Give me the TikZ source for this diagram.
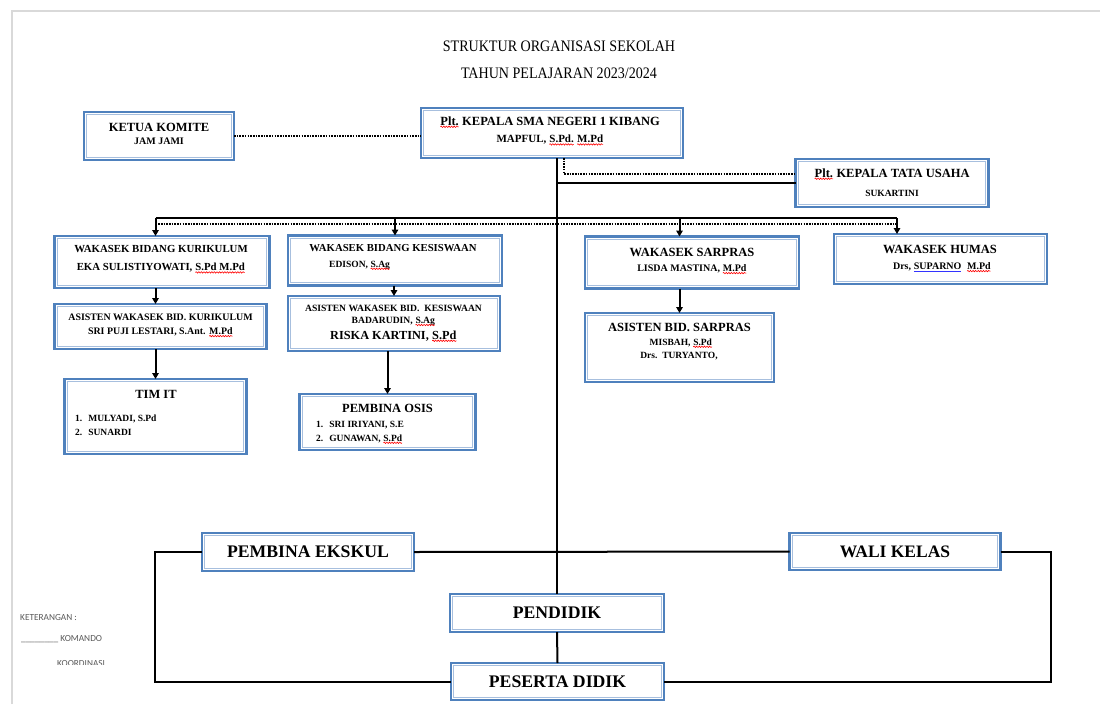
\documentclass[tikz,border=0pt]{standalone}
\usepackage{fontspec}
\setmainfont{Liberation Serif}
\newfontfamily\titlefont[FakeStretch=0.88]{Liberation Serif}
\newfontfamily\legfont{Carlito}
\usetikzlibrary{arrows.meta,decorations.pathmorphing}
\definecolor{bblue}{HTML}{4F81BD}
\definecolor{blight}{HTML}{A7BFDE}
\definecolor{pgray}{HTML}{D9D9D9}
\definecolor{lgray}{HTML}{5A5A5A}
\newcommand\fs[2]{\fontsize{#1}{#2}\selectfont}
\newcommand\sq[1]{\tikz[baseline=(s.base)]{\node[inner sep=0pt,outer sep=0pt] (s) {#1};\draw[red, line width=0.6pt, decorate, decoration={snake, amplitude=0.7pt, segment length=2.6pt}] ([yshift=-1.8pt]s.base west) -- ([yshift=-1.8pt]s.base east);}}
\newcommand\bu[1]{\tikz[baseline=(s.base)]{\node[inner sep=0pt,outer sep=0pt] (s) {#1};\draw[blue!80, line width=0.6pt] ([yshift=-1.6pt]s.base west) -- ([yshift=-1.6pt]s.base east);}}
\begin{document}
\begin{tikzpicture}[x=1pt,y=-1pt,
  bx/.style={draw=bblue, line width=2.6pt, fill=white, inner sep=0pt, outer sep=0pt, font=\bfseries},
  tl/.style={inner sep=0pt, anchor=base, font=\bfseries\fs{#1}{14}},
  ll/.style={inner sep=0pt, anchor=base west, font=\bfseries\fs{#1}{14}},
  ln/.style={line width=2pt, black},
  dt/.style={line width=1.8pt, black, dash pattern=on 1.6pt off 1.1pt},
  arr/.style={ln, -{Triangle[width=6.5pt,length=6pt]}},
  leg/.style={inner sep=0pt, font=\legfont\fs{9.3}{11}, text=lgray, anchor=west}]
\useasboundingbox (0,0) rectangle (1100,704);
\fill[white] (0,0) rectangle (1100,704);
\draw[pgray, line width=1.5pt] (12,704) -- (12,11) -- (1100,11);

% title
\node[inner sep=0pt, font=\titlefont\fs{16}{18}] (title1) at (559,46) {STRUKTUR ORGANISASI SEKOLAH};
\node[inner sep=0pt, font=\titlefont\fs{16}{18}] (title2) at (559,73) {TAHUN PELAJARAN 2023/2024};

% boxes
\node[bx, minimum width=150pt, minimum height=48pt] (komite) at (159,136) {};
\node[bx, minimum width=262pt, minimum height=50pt] (kepala) at (552,133) {};
\node[bx, minimum width=193pt, minimum height=48pt] (tu) at (892,183) {};
\node[bx, minimum width=215pt, minimum height=52pt] (wkur) at (162,262) {};
\node[bx, minimum width=214pt, minimum height=50pt] (wkes) at (395,260.5) {};
\node[bx, minimum width=214pt, minimum height=52pt] (wsar) at (692,262.5) {};
\node[bx, minimum width=213pt, minimum height=50pt] (whum) at (940.5,259) {};
\node[bx, minimum width=212pt, minimum height=45pt] (akur) at (160.5,326.5) {};
\node[bx, minimum width=212pt, minimum height=55pt] (akes) at (394,323.5) {};
\node[bx, minimum width=189pt, minimum height=69pt] (asar) at (679.5,347.5) {};
\node[bx, minimum width=182pt, minimum height=75pt] (timit) at (155.5,416.5) {};
\node[bx, minimum width=176pt, minimum height=56pt] (osis) at (387.5,422) {};
\node[bx, minimum width=212pt, minimum height=38pt, font=\bfseries\fs{17.7}{20}] (ekskul) at (308,552) {PEMBINA EKSKUL};
\node[bx, minimum width=211pt, minimum height=37pt, font=\bfseries\fs{17.5}{20}] (wali) at (895,551.5) {WALI KELAS};
\node[bx, minimum width=214pt, minimum height=38pt, font=\bfseries\fs{17.7}{20}] (pendidik) at (557,613) {PENDIDIK};
\node[bx, minimum width=213pt, minimum height=37pt, font=\bfseries\fs{17.7}{20}] (peserta) at (557.5,681.5) {PESERTA DIDIK};

\foreach \n in {komite,kepala,tu,wkur,wkes,wsar,whum,akur,akes,asar,timit,osis,ekskul,wali,pendidik,peserta}
  \draw[blight, line width=0.9pt] ([xshift=2.6pt,yshift=-2.6pt]\n.north west) rectangle ([xshift=-2.6pt,yshift=2.6pt]\n.south east);

% texts
\node[tl=12.5] (komite-1) at (159,131) {KETUA KOMITE};
\node[tl=10] (komite-2) at (159,144) {JAM JAMI};
\node[tl=12.5] (kepala-1) at (550,125) {\sq{Plt.} KEPALA SMA NEGERI 1 KIBANG};
\node[tl=11] (kepala-2) at (550,142.6) {MAPFUL, \sq{S.Pd.} \sq{M.Pd}};
\node[tl=12.5] (tu-1) at (892,177) {\sq{Plt.} KEPALA TATA USAHA};
\node[tl=9.5] (tu-2) at (892,196) {SUKARTINI};
\node[tl=10.8] (wkur-1) at (161,252.6) {WAKASEK BIDANG KURIKULUM};
\node[tl=10.8] (wkur-2) at (161,270.6) {EKA SULISTIYOWATI, \sq{S.Pd M.Pd}};
\node[tl=10.7] (wkes-1) at (393,251.5) {WAKASEK BIDANG KESISWAAN};
\node[ll=9.5] (wkes-2) at (329,267) {EDISON, \sq{S.Ag}};
\node[tl=12.5] (wsar-1) at (692,256) {WAKASEK SARPRAS};
\node[tl=10] (wsar-2) at (692,271.3) {LISDA MASTINA, \sq{M.Pd}};
\node[tl=12.5] (whum-1) at (940,253) {WAKASEK HUMAS};
\node[tl=10] (whum-2) at (942,269.3) {Drs, \bu{SUPARNO}\ \ \sq{M.Pd}};
\node[tl=9.9] (akur-1) at (160.5,320.3) {ASISTEN WAKASEK BID. KURIKULUM};
\node[tl=9.9] (akur-2) at (160.5,334.3) {SRI PUJI LESTARI, S.Ant. \sq{M.Pd}};
\node[tl=9.6] (akes-1) at (393.5,311.2) {ASISTEN WAKASEK BID.\ \ KESISWAAN};
\node[tl=9.6] (akes-2) at (393.5,323.2) {BADARUDIN, \sq{S.Ag}};
\node[tl=12.3] (akes-3) at (393.5,339) {RISKA KARTINI, \sq{S.Pd}};
\node[tl=12.5] (asar-1) at (679.5,331) {ASISTEN BID. SARPRAS};
\node[tl=9.5] (asar-2) at (681,345) {MISBAH, \sq{S.Pd}};
\node[tl=9.5] (asar-3) at (679,358) {Drs.\ \ TURYANTO,};
\node[tl=12.5] (timit-1) at (156,398) {TIM IT};
\node[ll=9.5] (timit-2) at (75,421) {1.\hspace{6pt}MULYADI, S.Pd};
\node[ll=9.5] (timit-3) at (75,435) {2.\hspace{6pt}SUNARDI};
\node[tl=12.5] (osis-1) at (387.5,412) {PEMBINA OSIS};
\node[ll=9.5] (osis-2) at (316,427) {1.\hspace{6pt}SRI IRIYANI, S.E};
\node[ll=9.5] (osis-3) at (316,441) {2.\hspace{6pt}GUNAWAN, \sq{S.Pd}};

% connectors
\draw[dt] (komite.east) -- (komite.east -| kepala.west);
\draw[ln] (kepala.south -| pendidik.north) -- (pendidik.north);
\coordinate (dx) at (564,174);
\draw[dt] (kepala.south -| dx) -- (dx) -- (dx -| tu.west);
\draw[ln] (tu.west) -- (tu.west -| pendidik.north);

\coordinate (bus) at (0,218);
\coordinate (dbus) at (0,224);
\coordinate (hx) at (897,0);
\draw[ln] (bus -| timit.north) -- (bus -| hx);
\draw[dt] (dbus -| timit.north) -- (dbus -| hx);
\draw[arr] (bus -| timit.north) -- (wkur.north -| timit.north);
\draw[arr] (bus -| wkes.north) -- (wkes.north);
\draw[arr] (bus -| asar.north) -- (wsar.north -| asar.north);
\draw[arr] (bus -| hx) -- (whum.north -| hx);

\draw[arr] (wkur.south -| timit.north) -- (akur.north -| timit.north);
\draw[arr] (akur.south -| timit.north) -- (timit.north);
\draw[arr] (wkes.south -| akes.north) -- (akes.north);
\draw[arr] (akes.south -| osis.north) -- (osis.north);
\draw[arr] (wsar.south -| asar.north) -- (asar.north);

\draw[ln] (ekskul.east) -- (wali.west);
\draw[ln] (pendidik.south) -- (peserta.north);
\draw[ln] (ekskul.west) -- ++(-47,0) |- (peserta.west);
\draw[ln] (wali.east) -- ++(50,0) |- (peserta.east);

% legend
\node[leg] (ket) at (20,618) {KETERANGAN :};
\node[leg] (kom) at (21,639) {\_\_\_\_\_\_\_\_ KOMANDO};
\begin{scope}
\clip (0,645) rectangle (200,664);
\node[leg] (koor) at (57,663.5) {KOORDINASI};
\end{scope}
\end{tikzpicture}
\end{document}
